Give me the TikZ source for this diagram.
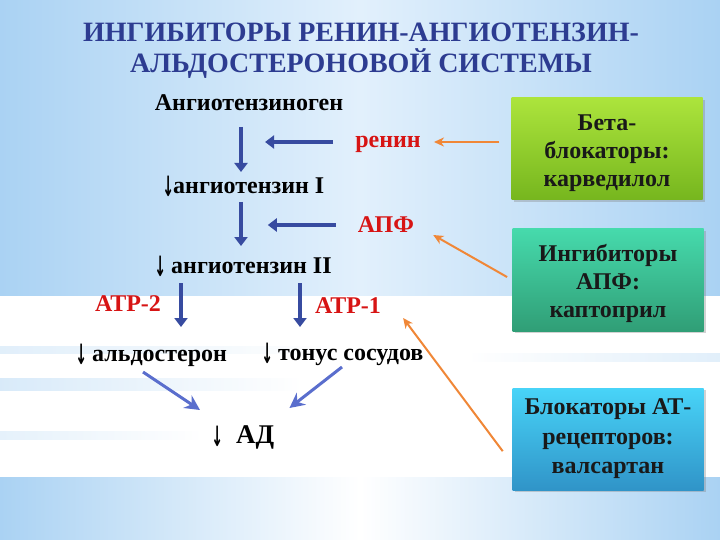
\documentclass[tikz,border=0pt]{standalone}
\usepackage{fontspec}
\usepackage{graphicx}
\setmainfont{Liberation Serif}
\newfontfamily\arrowfont{DejaVu Sans}
\usetikzlibrary{arrows.meta, shadows, calc}

\definecolor{titleblue}{RGB}{45,60,145}
\definecolor{enzred}{RGB}{215,20,20}
\definecolor{flowblue}{RGB}{55,75,160}
\definecolor{sumblue}{RGB}{90,110,205}
\definecolor{inhorange}{RGB}{240,135,55}
\definecolor{bgedge}{RGB}{170,210,243}
\definecolor{bgmid}{RGB}{226,240,252}
\definecolor{betatop}{RGB}{172,228,60}
\definecolor{betabot}{RGB}{118,182,30}
\definecolor{acetop}{RGB}{70,218,172}
\definecolor{acebot}{RGB}{48,158,118}
\definecolor{arbtop}{RGB}{72,212,248}
\definecolor{arbbot}{RGB}{48,148,200}

% down arrow in front of a word
\newcommand\dn{\makebox[10pt]{\raisebox{-3pt}{\scalebox{0.7}[1.4]{\arrowfont\fontsize{20}{20}\selectfont ↓}}}}

\begin{document}
\begin{tikzpicture}[x=1pt, y=-1pt]

% --- Define reusable styles ---
\tikzset{
    title/.style={font=\bfseries\fontsize{28}{31}\selectfont, text=titleblue, align=center, inner sep=0pt},
    chem/.style={font=\bfseries\fontsize{24}{26}\selectfont, inner sep=0pt, anchor=base},
    enzyme/.style={chem, text=enzred},
    flow/.style={draw=flowblue, line width=3.5pt, -{Triangle[width=13pt, length=9pt]}},
    sumarrow/.style={draw=sumblue, line width=3pt, -{Stealth[width=15pt, length=15pt, inset=5pt]}},
    inhib/.style={draw=inhorange, line width=2pt, -{Stealth[width=9pt, length=10pt, inset=3pt]}},
    drugbox/.style={minimum width=191pt, minimum height=102pt, inner sep=0pt, align=center,
        font=\bfseries\fontsize{24}{28}\selectfont, text=black!90,
        drop shadow={opacity=0.35, shadow xshift=2pt, shadow yshift=-2pt}}
}

\useasboundingbox (0,0) rectangle (720,540);

% 1. Background with the white band
\shade[left color=bgedge, right color=bgedge, middle color=bgmid] (0,0) rectangle (720,296);
\fill[white] (0,296) rectangle (720,477);
\shade[left color=bgedge, right color=white, opacity=0.35] (0,346) rectangle (330,353);
\shade[left color=bgedge, right color=white, opacity=0.45] (0,378) rectangle (300,390);
\shade[left color=white, right color=bgedge, opacity=0.35] (470,353) rectangle (720,361);
\shade[left color=bgedge, right color=white, opacity=0.3] (0,431) rectangle (200,439);
\shade[left color=bgedge, right color=bgedge, middle color=white] (0,477) rectangle (720,540);

% 2. Title
\node[title] (title) at (361,51) {ИНГИБИТОРЫ РЕНИН-АНГИОТЕНЗИН-\\АЛЬДОСТЕРОНОВОЙ СИСТЕМЫ};

% 3. Cascade
\node[chem] (agen) at (249,111) {Ангиотензиноген};
\node[chem, anchor=base west] (ang1) at (163,194) {\dn ангиотензин I};
\node[chem, anchor=base west] (ang2) at (155,273) {\dn\ ангиотензин II};
\node[chem, anchor=base west] (aldo) at (76,361) {\dn\ альдостерон};
\node[chem, anchor=base west] (tone) at (262,360) {\dn\ тонус сосудов};
\node[chem, anchor=base west, font=\bfseries\fontsize{27}{28}\selectfont] (ad) at (212,443) {\dn\hspace{14pt}АД};

% 4. Enzymes and receptors
\node[enzyme] (renin) at (388,148) {ренин};
\node[enzyme] (apf) at (386,233) {АПФ};
\node[enzyme] (atr2) at (128,311) {АТР-2};
\node[enzyme] (atr1) at (348,313) {АТР-1};

% 5. Drug boxes
\node[drugbox, top color=betatop, bottom color=betabot] (beta) at (607,149) {\rule{0pt}{25pt}Бета-\\блокаторы:\\карведилол};
\node[drugbox, top color=acetop, bottom color=acebot] (ace) at (608,280) {\rule{0pt}{25pt}Ингибиторы\\АПФ:\\каптоприл};
\node[drugbox, top color=arbtop, bottom color=arbbot, font=\bfseries\fontsize{24}{29.5}\selectfont] (arb) at (608,439) {Блокаторы АТ-\\рецепторов:\\валсартан};

% 6. Blue arrows of the cascade
\coordinate (col) at (241,0);
\coordinate (leftcol) at (181,0);
\coordinate (rightcol) at (300,0);
\draw[flow] ($(agen.base -| col)+(0,16)$) -- ($(ang1.base -| col)+(0,-22)$);
\draw[flow] ($(ang1.base -| col)+(0,8)$) -- ($(ang2.base -| col)+(0,-27)$);
\draw[flow] ($(renin.base west)+(-22,-6)$) -- ++(-68,0);
\draw[flow] ($(apf.base west)+(-22,-8)$) -- ++(-68,0);
\draw[flow] ($(ang2.base -| leftcol)+(0,10)$) -- ($(aldo.base -| leftcol)+(0,-34)$);
\draw[flow] ($(ang2.base -| rightcol)+(0,10)$) -- ($(tone.base -| rightcol)+(0,-33)$);

% 7. Arrows towards the blood pressure
\draw[sumarrow] ($(aldo.base west)+(67,11)$) -- ($(ad.base west)+(-12,-33)$);
\draw[sumarrow] ($(tone.base west)+(80,7)$) -- ($(ad.base east)+(15,-35)$);

% 8. Orange arrows from the drugs
\draw[inhib] ($(beta.west |- renin.base)+(-12,-6)$) -- ($(renin.base east)+(13,-6)$);
\draw[inhib, shorten <=6pt] (ace.west) -- ($(apf.base east)+(19,2)$);
\draw[inhib, shorten <=16pt] ($(arb.west)+(0,25)$) -- ($(atr1.base east)+(22,5)$);

\end{tikzpicture}
\end{document}
